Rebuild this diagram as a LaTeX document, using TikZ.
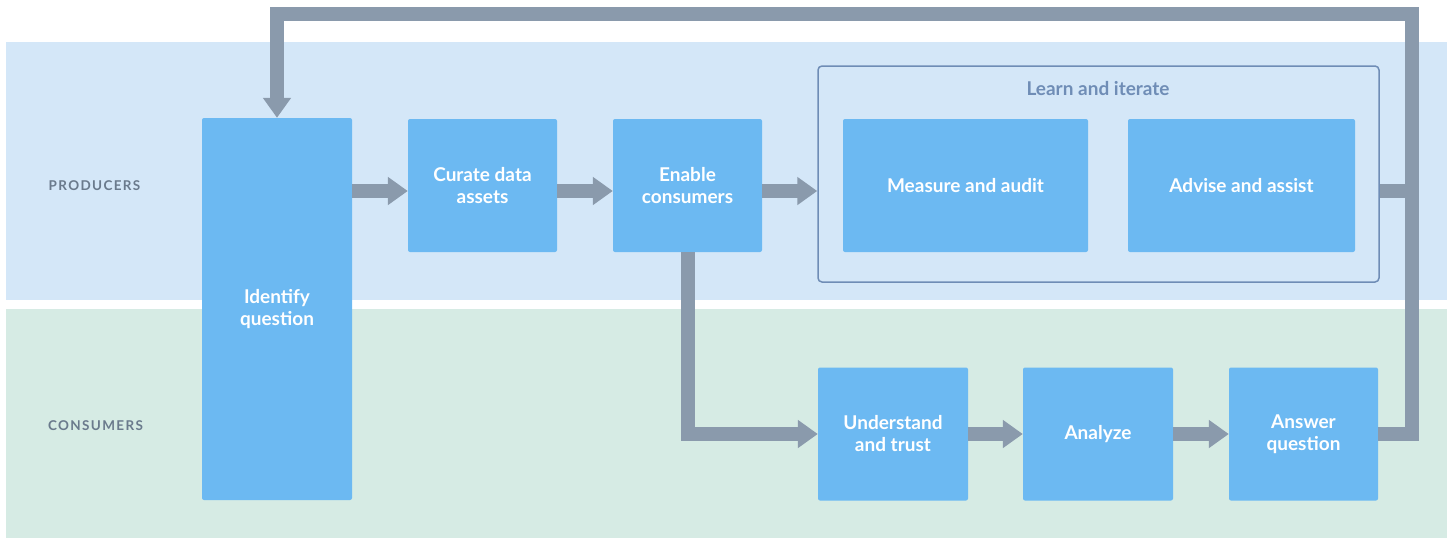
\documentclass[tikz,border=0pt]{standalone}
\usepackage{fontspec}
\setmainfont{Lato}
\newfontfamily\lanefont[LetterSpace=10]{Lato}
\usetikzlibrary{arrows.meta}

\definecolor{prodbg}{HTML}{D4E7F8}
\definecolor{consbg}{HTML}{D6EBE4}
\definecolor{boxblue}{HTML}{6CB9F2}
\definecolor{flowgray}{HTML}{8A9AAC}
\definecolor{framec}{HTML}{6F8DB6}
\definecolor{lanegray}{HTML}{6A7A8C}

\begin{document}
\begin{tikzpicture}[x=1pt, y=-1pt,
    box/.style={fill=boxblue, rounded corners=2pt, text=white, align=center,
      inner sep=0pt, font=\bfseries\fontsize{19}{22}\selectfont},
    lane/.style={text=lanegray, font=\lanefont\bfseries\fontsize{13.5}{15}\selectfont},
    flow/.style={draw=flowgray, line width=14pt, -{Triangle[width=27pt, length=20pt]}},
    link/.style={draw=flowgray, line width=14pt}]
  \useasboundingbox (0,0) rectangle (1449,539);

  % swim lanes
  \fill[prodbg] (6,42) rectangle (1447,300);
  \fill[consbg] (6,309) rectangle (1447,538);
  \node[lane] (prod) at (94.5,186) {PRODUCERS};
  \node[lane] (cons) at (95.5,426) {CONSUMERS};

  % rows the arrows run along
  \coordinate (prow) at (0,191);
  \coordinate (loopR) at (1412,14);

  % learn and iterate frame
  \node[draw=framec, line width=1.5pt, rounded corners=4pt, inner sep=0pt,
    minimum width=561pt, minimum height=216pt] (lrn) at (1098.5,174) {};
  \node[text=framec, font=\bfseries\fontsize{19}{22}\selectfont] (lrnt) at (1098,89) {Learn and iterate};

  % steps
  \node[box, minimum width=150pt, minimum height=382pt] (idq) at (277,309) {Identify\\question};
  \node[box, minimum width=149pt, minimum height=133pt] (cur) at (482.5,185.5) {Curate data\\assets};
  \node[box, minimum width=149pt, minimum height=133pt] (ena) at (687.5,185.5) {Enable\\consumers};
  \node[box, minimum width=245pt, minimum height=133pt] (mea) at (965.5,185.5) {Measure and audit};
  \node[box, minimum width=227pt, minimum height=133pt] (adv) at (1241.5,185.5) {Advise and assist};
  \node[box, minimum width=150pt, minimum height=133pt] (und) at (893,434) {Understand\\and trust};
  \node[box, minimum width=150pt, minimum height=133pt] (ana) at (1098,434) {Analyze};
  \node[box, minimum width=149pt, minimum height=133pt] (ans) at (1303.5,434) {Answer\\question};

  % producer flow
  \draw[flow] (idq.east |- prow) -- (cur.west |- prow);
  \draw[flow] (cur.east |- prow) -- (ena.west |- prow);
  \draw[flow] (ena.east |- prow) -- (lrn.west |- prow);
  % consumer flow
  \draw[flow] (ena.south) |- (und.west);
  \draw[flow] (und) -- (ana);
  \draw[flow] (ana) -- (ans);
  % back to the start
  \draw[flow] (ans.east) -| (loopR) -| (idq.north);
  \draw[link] (lrn.east |- prow) -- (loopR |- prow);
\end{tikzpicture}
\end{document}
